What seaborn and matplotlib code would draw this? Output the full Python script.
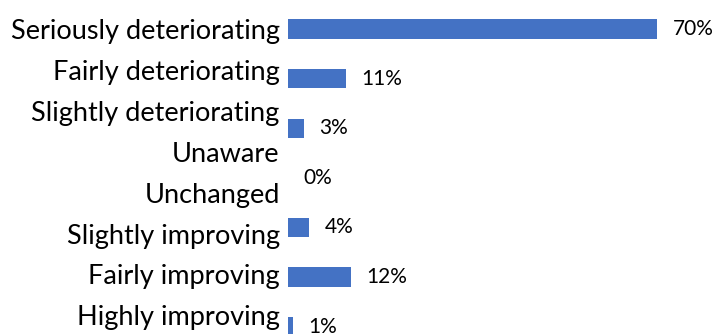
import matplotlib
matplotlib.use("Agg")
import matplotlib.pyplot as plt
import numpy as np
import pandas as pd
import seaborn as sns

# Response categories shown along the vertical axis (top to bottom)
axis_labels = [
    "Seriously deteriorating",
    "Fairly deteriorating",
    "Slightly deteriorating",
    "Unaware",
    "Unchanged",
    "Slightly improving",
    "Fairly improving",
    "Highly improving",
]

# Categories that carry a bar, with their shares in percent
bar_categories = [
    "Seriously deteriorating",
    "Fairly deteriorating",
    "Slightly deteriorating",
    "Unchanged",
    "Slightly improving",
    "Fairly improving",
    "Highly improving",
]
shares = [70, 11, 3, 0, 4, 12, 1]

BAR_COLOR = "#4472C4"

sns.set_theme(style="white")
plt.rcParams["font.family"] = ["Lato", "DejaVu Sans"]

df = pd.DataFrame({"category": bar_categories, "share": shares})

fig = plt.figure(figsize=(7.17, 3.34), dpi=100)
ax = fig.add_axes([288 / 717, 0.0, 422 / 717, 1.0])

sns.barplot(
    data=df, x="share", y="category", orient="h",
    color=BAR_COLOR, saturation=1, width=0.39, ax=ax, linewidth=0,
)

ax.set_xlim(0, 80)
ax.set_ylim(6.149, -0.585)

# Category captions run on their own, slightly tighter spacing
label_pos = 0.20 + 0.825 * np.arange(len(axis_labels))
ax.set_yticks(label_pos, labels=axis_labels)
for lbl in ax.get_yticklabels():
    lbl.set_verticalalignment("baseline")
    lbl.set_fontsize(19.5)
    lbl.set_color("black")
ax.tick_params(axis="y", length=0, pad=6)

ax.set_xticks([])
ax.set_xlabel("")
ax.set_ylabel("")
for side in ax.spines.values():
    side.set_visible(False)

ax.bar_label(ax.containers[0], labels=[f"{v}%" for v in shares],
             padding=11, fontsize=15, color="black")

fig.savefig("out.png", dpi=100)
